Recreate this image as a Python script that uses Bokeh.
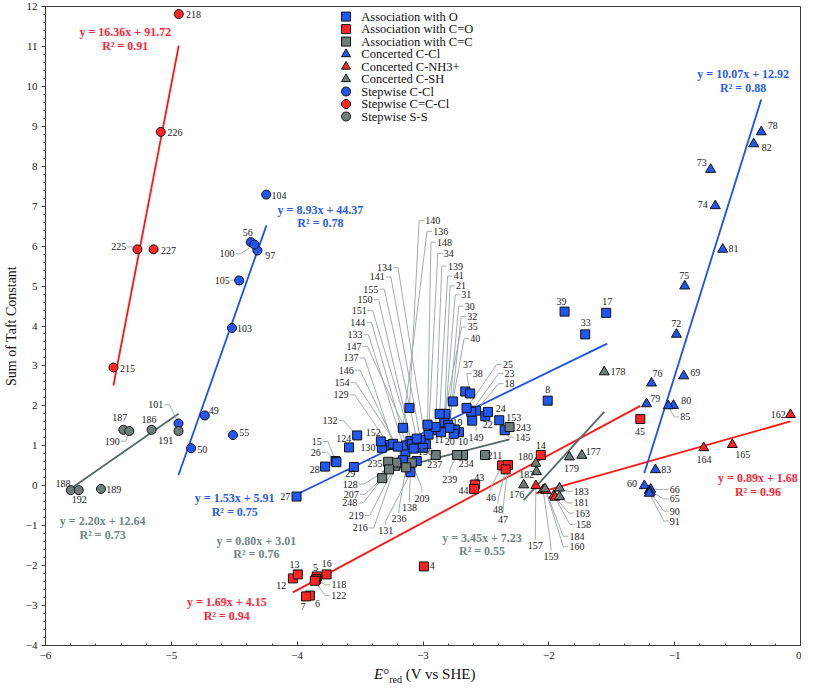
from bokeh.plotting import figure
from bokeh.layouts import column
from bokeh.models import SingleIntervalTicker, Range1d, Div
from bokeh.core.properties import value
from bokeh.embed import file_html
from bokeh.resources import INLINE

FONT = "Liberation Serif"
BLUE, RED, GREY = "#2157F0", "#FF2424", "#6E7D79"
BLUE_L, RED_L, GREY_L = "#1E50EE", "#FF1414", "#566969"

# ---------------- data (E°red, Sum of Taft constant) ----------------
o_id = [8, 10, 11, 15, 17, 18, 19, 20, 21, 22, 23, 24, 25, 26, 27, 28, 29, 30, 31, 32, 33, 34, 35, 37,
        38, 39, 40, 41, 124, 128, 129, 130, 131, 132, 133, 134, 136, 137, 138, 139, 140, 141, 144,
        145, 146, 147, 148, 149, 150, 151, 152, 153, 154, 155, 156]
o_x = [-2.009, -2.714, -2.883, -3.695, -1.544, -2.578, -2.748, -2.756, -2.831, -2.505, -2.617, -2.484,
       -2.654, -3.688, -4.005, -3.778, -3.549, -2.800, -2.821, -2.790, -1.711, -2.956, -2.857, -2.664,
       -2.625, -1.875, -2.763, -2.868, -3.588, -3.220, -3.270, -3.327, -3.050, -3.523, -3.140, -2.977,
       -3.160, -3.238, -3.100, -2.900, -3.108, -3.020, -3.134, -2.351, -3.160, -3.100, -2.964, -2.609,
       -3.087, -3.074, -3.335, -2.394, -3.200, -3.050, -3.000]
o_y = [2.13, 1.34, 1.39, 0.62, 4.33, 1.88, 1.41, 1.30, 1.59, 1.74, 1.85, 1.85, 1.95, 0.59, -0.27, 0.48,
       0.47, 1.52, 1.80, 1.45, 3.79, 1.28, 1.34, 2.36, 2.31, 4.36, 2.11, 1.80, 0.96, 0.52, 1.02, 0.95,
       0.62, 1.26, 0.84, 1.04, 1.45, 1.05, 0.34, 1.47, 1.95, 1.15, 1.01, 1.39, 0.64, 1.12, 1.53, 1.63,
       1.04, 0.93, 1.11, 1.64, 0.98, 1.18, 0.95]

co_id = [4, 5, 6, 7, 12, 13, 14, 16, 43, 44, 45, 46, 47, 48, 118, 122]
co_x = [-2.993, -3.844, -3.899, -3.930, -4.034, -3.995, -2.064, -3.766, -2.586, -2.594, -1.273, -2.372,
        -2.325, -2.343, -3.849, -3.860]
co_y = [-2.02, -2.27, -2.75, -2.77, -2.32, -2.22, 0.77, -2.22, 0.03, -0.08, 1.67, 0.51, 0.52, 0.41,
        -2.34, -2.38]

cc_id = [207, 209, 211, 216, 219, 234, 235, 236, 237, 239, 243, 248]
cc_x = [-3.324, -3.089, -2.507, -3.220, -3.212, -2.682, -3.277, -3.134, -2.899, -2.729, -2.312, -3.270]
cc_y = [0.19, 0.58, 0.77, 0.50, 0.58, 0.77, 0.60, 0.46, 0.77, 0.77, 1.47, 0.41]

ccl_id = [60, 65, 66, 69, 72, 73, 74, 75, 76, 78, 79, 80, 81, 82, 83, 85, 90, 91]
ccl_x = [-1.241, -1.202, -1.190, -0.928, -0.986, -0.714, -0.677, -0.920, -1.184, -0.312, -1.223, -1.009,
         -0.618, -0.372, -1.153, -1.051, -1.194, -1.202]
ccl_y = [0.00, -0.12, -0.09, 2.75, 3.79, 7.92, 7.01, 5.00, 2.57, 8.86, 2.05, 2.01, 5.92, 8.56, 0.40,
         2.00, -0.16, -0.19]

nh_id = [157, 158, 159, 160, 162, 163, 164, 165]
nh_x = [-2.103, -1.960, -2.045, -2.024, -0.080, -1.951, -0.769, -0.542]
nh_y = [0.00, -0.24, -0.10, -0.12, 1.78, -0.29, 0.95, 1.03]

sh_id = [176, 177, 178, 179, 180, 181, 182, 183, 184]
sh_x = [-2.200, -1.738, -1.560, -1.837, -2.103, -1.915, -2.098, -1.915, -2.030]
sh_y = [0.02, 0.76, 2.85, 0.72, 0.56, -0.27, 0.35, -0.06, -0.08]

scl_id = [49, 50, 55, 56, 97, 100, 101, 103, 104, 105]
scl_x = [-4.734, -4.843, -4.510, -4.369, -4.316, -4.340, -4.943, -4.518, -4.246, -4.461]
scl_y = [1.76, 0.94, 1.27, 6.10, 5.89, 6.04, 1.56, 3.95, 7.29, 5.14]

sccl_id = [215, 218, 225, 226, 227]
sccl_x = [-5.460, -4.941, -5.269, -5.084, -5.141]
sccl_y = [2.96, 11.81, 5.92, 8.86, 5.92]

ss_id = [186, 187, 188, 189, 190, 191, 192]
ss_x = [-5.157, -5.381, -5.799, -5.559, -5.334, -4.943, -5.736]
ss_y = [1.40, 1.40, -0.11, -0.08, 1.37, 1.37, -0.11]

series_names = ["Association with O", "Association with C=O", "Association with C=C",
                "Concerted C-Cl", "Concerted C-NH3+", "Concerted C-SH",
                "Stepwise C-Cl", "Stepwise C=C-Cl", "Stepwise S-S"]

# trend lines (end points) and their equations
fit_x0 = [-5.460, -4.943, -5.775, -4.005, -3.324, -4.034, -2.200, -2.103, -1.241]
fit_y0 = [2.51, 0.27, -0.02, -0.22, 0.35, -2.67, -0.36, -0.19, 0.32]
fit_x1 = [-4.941, -4.244, -4.943, -1.536, -2.312, -1.273, -1.560, -0.080, -0.312]
fit_y1 = [11.02, 6.52, 1.80, 3.56, 1.16, 2.00, 1.85, 1.61, 9.67]
fit_eq = ["y = 16.36x + 91.72", "y = 8.93x + 44.37", "y = 2.20x + 12.64", "y = 1.53x + 5.91",
          "y = 0.80x + 3.01", "y = 1.69x + 4.15", "y = 3.45x + 7.23", "y = 0.89x + 1.68",
          "y = 10.07x + 12.92"]
fit_r2 = ["R² = 0.91", "R² = 0.78", "R² = 0.73", "R² = 0.75", "R² = 0.76", "R² = 0.94",
          "R² = 0.55", "R² = 0.96", "R² = 0.88"]

# ---------------- layout helpers (reference pixel -> axis units) ----------------
def gx(px):
    return (px - 44.0) / 127.7 - 6.0


def gy(py):
    return (491.7 - py) / 40.3


fit_colors = [RED_L, BLUE_L, GREY_L, BLUE_L, GREY_L, RED_L, GREY_L, RED_L, BLUE_L]
eq_colors = ["#FF2638", "#2A5BEF", "#6F8585", "#2A5BEF", "#6F8585", "#FF2638", "#6F8585", "#FF2638", "#2A5BEF"]
eq_pos = [(125, 34), (323, 213), (102, 527), (236, 504), (258, 547), (228, 609), (487, 544),
          (767, 484), (752, 76)]

# label placement: id, centre px, centre py, leader side
LBL = [
    (218, 194.3, 15.7, None), (226, 175.3, 135.3, None), (225, 118.3, 250.7, 'R'),
    (227, 168.7, 254.0, None), (215, 127.3, 373.0, None),
    (104, 281.0, 198.7, None), (56, 249.3, 236.0, None), (100, 228.3, 257.7, 'R'),
    (97, 272.0, 259.0, None), (105, 223.3, 284.3, 'R'), (103, 246.0, 332.7, None),
    (49, 214.7, 415.7, None), (55, 245.7, 438.3, None), (50, 203.0, 455.0, None),
    (101, 156.0, 410.0, 'R'),
    (187, 119.3, 423.3, None), (190, 111.7, 446.7, 'R'), (186, 149.0, 425.0, None),
    (191, 166.0, 446.0, None), (188, 61.7, 489.3, None), (192, 78.3, 506.0, None),
    (189, 113.3, 495.7, None),
    (78, 782.0, 128.3, None), (82, 776.0, 150.0, None), (73, 710.0, 166.0, None),
    (74, 711.0, 208.3, None), (81, 742.3, 252.3, None), (75, 692.3, 279.3, None),
    (72, 684.0, 328.0, None), (76, 665.0, 378.3, None), (69, 703.3, 377.3, None),
    (79, 662.7, 404.0, None), (80, 694.3, 405.3, None), (85, 693.3, 422.3, 'L'),
    (83, 674.0, 475.7, None), (60, 639.3, 489.0, None), (66, 682.7, 495.3, 'L'),
    (65, 682.7, 505.0, 'L'), (90, 682.7, 517.3, 'L'), (91, 682.7, 527.3, 'L'),
    (162, 787.7, 420.0, None), (164, 712.3, 465.0, None), (165, 751.7, 460.0, None),
    (157, 541.0, 552.3, 'T'), (159, 557.0, 563.0, 'T'), (160, 583.3, 553.3, 'L'),
    (158, 590.0, 530.7, 'L'), (163, 589.0, 519.3, 'L'),
    (178, 625.0, 376.7, None), (177, 600.0, 456.7, None), (179, 577.7, 474.3, None),
    (180, 531.0, 461.7, None), (182, 532.3, 480.0, None), (176, 522.3, 501.0, None),
    (183, 587.7, 497.3, 'L'), (181, 587.7, 509.0, 'L'), (184, 583.3, 542.7, 'L'),
    (45, 647.3, 436.7, None), (14, 546.7, 451.0, None), (46, 496.0, 503.3, 'T'),
    (48, 503.3, 515.7, 'T'), (47, 508.3, 525.7, 'T'), (43, 484.3, 483.3, None),
    (44, 468.3, 496.7, None), (4, 436.5, 572.0, None), (13, 296.7, 571.0, None),
    (12, 283.3, 592.7, None), (5, 318.0, 574.3, None), (16, 329.3, 570.0, None),
    (118, 341.7, 591.7, 'L'), (122, 341.7, 602.7, 'L'), (7, 305.3, 613.3, None),
    (6, 320.0, 610.7, None),
    (39, 567.7, 306.0, None), (17, 614.0, 306.0, None), (33, 592.3, 326.7, None),
    (8, 553.7, 395.0, None), (27, 287.3, 502.7, None), (28, 317.3, 475.0, None),
    (26, 318.3, 458.0, 'R'), (15, 319.3, 447.0, 'R'), (29, 353.3, 479.3, None),
    (124, 346.7, 444.0, None), (132, 332.7, 426.0, 'R'), (152, 376.7, 438.3, None),
    (130, 371.3, 452.7, None), (37, 472.7, 369.3, None), (38, 482.7, 378.3, 'L'),
    (25, 513.3, 369.3, 'L'), (23, 515.0, 378.3, 'L'), (18, 515.0, 388.7, 'L'),
    (24, 506.0, 414.0, None), (22, 492.7, 430.0, None), (153, 519.3, 423.3, None),
    (145, 528.3, 442.7, 'L'), (149, 481.0, 442.7, 'T'), (19, 462.0, 428.0, None),
    (11, 443.3, 445.0, None), (20, 454.3, 446.7, None), (10, 467.7, 447.3, None),
    (156, 429.3, 457.3, None), (138, 413.3, 514.0, 'T'), (128, 353.3, 490.0, 'R'),
    (131, 389.3, 537.3, 'T'),
    (140, 437.0, 224.0, 'L'), (136, 445.0, 235.0, 'L'), (148, 449.0, 246.0, 'L'),
    (34, 453.3, 257.3, 'L'), (139, 460.0, 270.0, 'L'), (41, 463.3, 280.0, 'L'),
    (21, 465.7, 290.0, 'L'), (31, 471.0, 299.0, 'L'), (30, 474.5, 310.5, 'L'),
    (32, 477.0, 320.7, 'L'), (35, 477.5, 331.5, 'L'), (40, 480.0, 343.3, 'L'),
    (134, 388.0, 271.7, 'R'), (141, 380.7, 281.0, 'R'), (155, 374.0, 293.3, 'R'),
    (150, 368.3, 304.0, 'R'), (151, 362.3, 315.0, 'R'), (144, 361.0, 326.7, 'R'),
    (133, 358.0, 339.3, 'R'), (147, 357.0, 351.0, 'R'), (137, 354.0, 362.7, 'R'),
    (146, 349.3, 375.0, 'R'), (154, 345.0, 387.7, 'R'), (129, 344.0, 400.0, 'R'),
    (235, 378.3, 469.0, None), (237, 439.0, 470.0, None), (234, 471.0, 469.0, None),
    (239, 454.3, 485.0, 'T'), (211, 500.0, 460.7, None), (243, 529.0, 432.7, None),
    (207, 354.3, 500.3, 'R'), (248, 352.7, 509.0, 'R'), (219, 359.3, 521.7, 'R'),
    (216, 363.3, 534.3, 'R'), (236, 402.7, 525.0, 'T'), (209, 426.0, 504.3, 'T'),
]

# ---------------- figure ----------------
p = figure(width=801, height=664, x_range=Range1d(-6, 0), y_range=Range1d(-4, 12),
           output_backend="svg", toolbar_location=None,
           min_border_left=36, min_border_right=1, min_border_top=6, min_border_bottom=19)
p.xgrid.visible = False
p.ygrid.visible = False
p.outline_line_color = "#3a3a3a"
p.outline_line_width = 1
p.background_fill_color = "white"
p.border_fill_color = "white"

for ax in (p.xaxis[0], p.yaxis[0]):
    ax.ticker = SingleIntervalTicker(interval=1, num_minor_ticks=5)
    ax.axis_line_color = "#3a3a3a"
    ax.major_tick_line_color = "#3a3a3a"
    ax.minor_tick_line_color = "#3a3a3a"
    ax.major_label_text_font = FONT
    ax.major_label_text_font_size = "11px"
    ax.major_label_text_color = "#222222"

p.xaxis.major_tick_in = 4
p.xaxis.major_tick_out = 0
p.xaxis.minor_tick_in = 2
p.xaxis.minor_tick_out = 0
p.xaxis.major_label_standoff = 6
p.yaxis.major_tick_in = 0
p.yaxis.major_tick_out = 4
p.yaxis.minor_tick_in = 0
p.yaxis.minor_tick_out = 2
p.yaxis.major_label_standoff = 4
p.yaxis.axis_label = "Sum of Taft Constant"
p.yaxis.axis_label_text_font = FONT
p.yaxis.axis_label_text_font_size = "14px"
p.yaxis.axis_label_text_font_style = "normal"
p.yaxis.axis_label_text_color = "#111111"
p.yaxis.axis_label_standoff = 4

# trend lines
p.segment(x0=fit_x0, y0=fit_y0, x1=fit_x1, y1=fit_y1, line_color=fit_colors, line_width=1.8)

# gather points
series = [
    (o_id, o_x, o_y, "square", BLUE), (co_id, co_x, co_y, "square", RED),
    (cc_id, cc_x, cc_y, "square", GREY), (ccl_id, ccl_x, ccl_y, "triangle", BLUE),
    (nh_id, nh_x, nh_y, "triangle", RED), (sh_id, sh_x, sh_y, "triangle", GREY),
    (scl_id, scl_x, scl_y, "circle", BLUE), (sccl_id, sccl_x, sccl_y, "circle", RED),
    (ss_id, ss_x, ss_y, "circle", GREY),
]
pts = {}
for ids, xs, ys, _m, _c in series:
    for i, xv, yv in zip(ids, xs, ys):
        pts[i] = (xv, yv)

# leader lines and label positions
lx, ly = [], []
t_x, t_y, t_txt = [], [], []
for pid, cx, cy, side in LBL:
    txt = str(pid)
    t_x.append(gx(cx)); t_y.append(gy(cy)); t_txt.append(txt)
    if side is None:
        continue
    hw = 2.6 * len(txt)
    if side == 'R':
        a = (cx + hw + 1, cy); b = (cx + hw + 6, cy)
    elif side == 'L':
        a = (cx - hw - 1, cy); b = (cx - hw - 6, cy)
    else:
        a = (cx, cy - 6); b = (cx, cy - 10)
    px_, py_ = pts[pid]
    lx.append([gx(a[0]), gx(b[0]), px_])
    ly.append([gy(a[1]), gy(b[1]), py_])
p.multi_line(xs=lx, ys=ly, line_color="#A3ACAC", line_width=1)

# markers
for ids, xs, ys, mk, col in series:
    sz = 10 if mk == "triangle" else 9
    p.scatter(x=xs, y=ys, marker=mk, size=sz, fill_color=col, line_color="#111111", line_width=1)

# point labels
p.text(x=t_x, y=t_y, text=t_txt, text_font=value(FONT), text_font_size="10px",
       text_align="center", text_baseline="middle", text_color="#1a1a1a")

# equations
p.text(x=[gx(a) for a, b in eq_pos], y=[gy(b) for a, b in eq_pos], text=fit_eq,
       text_font=value(FONT), text_font_size="12px", text_font_style="bold",
       text_align="center", text_baseline="middle", text_color=eq_colors)
p.text(x=[gx(a) for a, b in eq_pos], y=[gy(b + 14) for a, b in eq_pos], text=fit_r2,
       text_font=value(FONT), text_font_size="12px", text_font_style="bold",
       text_align="center", text_baseline="middle", text_color=eq_colors)

# legend (drawn manually so marker size matches the reference)
leg_mk = ["square", "square", "square", "triangle", "triangle", "triangle", "circle", "circle", "circle"]
leg_col = [BLUE, RED, GREY, BLUE, RED, GREY, BLUE, RED, GREY]
leg_py = [18.3 + 12.6 * i for i in range(9)]
p.scatter(x=[gx(349)] * 9, y=[gy(v) for v in leg_py], marker=leg_mk, size=9,
          fill_color=leg_col, line_color="#111111", line_width=1)
p.text(x=[gx(364.5)] * 9, y=[gy(v) for v in leg_py], text=series_names,
       text_font=value(FONT), text_font_size="12.5px", text_align="left",
       text_baseline="middle", text_color="#111111")

# x axis title: italic E, degree sign, subscript "red"
xtitle = Div(text='<span style="font-family:\'Liberation Serif\';font-size:15px;color:#111;white-space:nowrap;">'
                  '<i>E</i>°<sub style="font-size:10px;">red</sub> (V vs SHE)</span>',
             width=140, height=18, margin=(0, 0, 0, 374))

layout = column(p, xtitle, spacing=0)
open("out.html", "w").write(file_html(layout, INLINE))
